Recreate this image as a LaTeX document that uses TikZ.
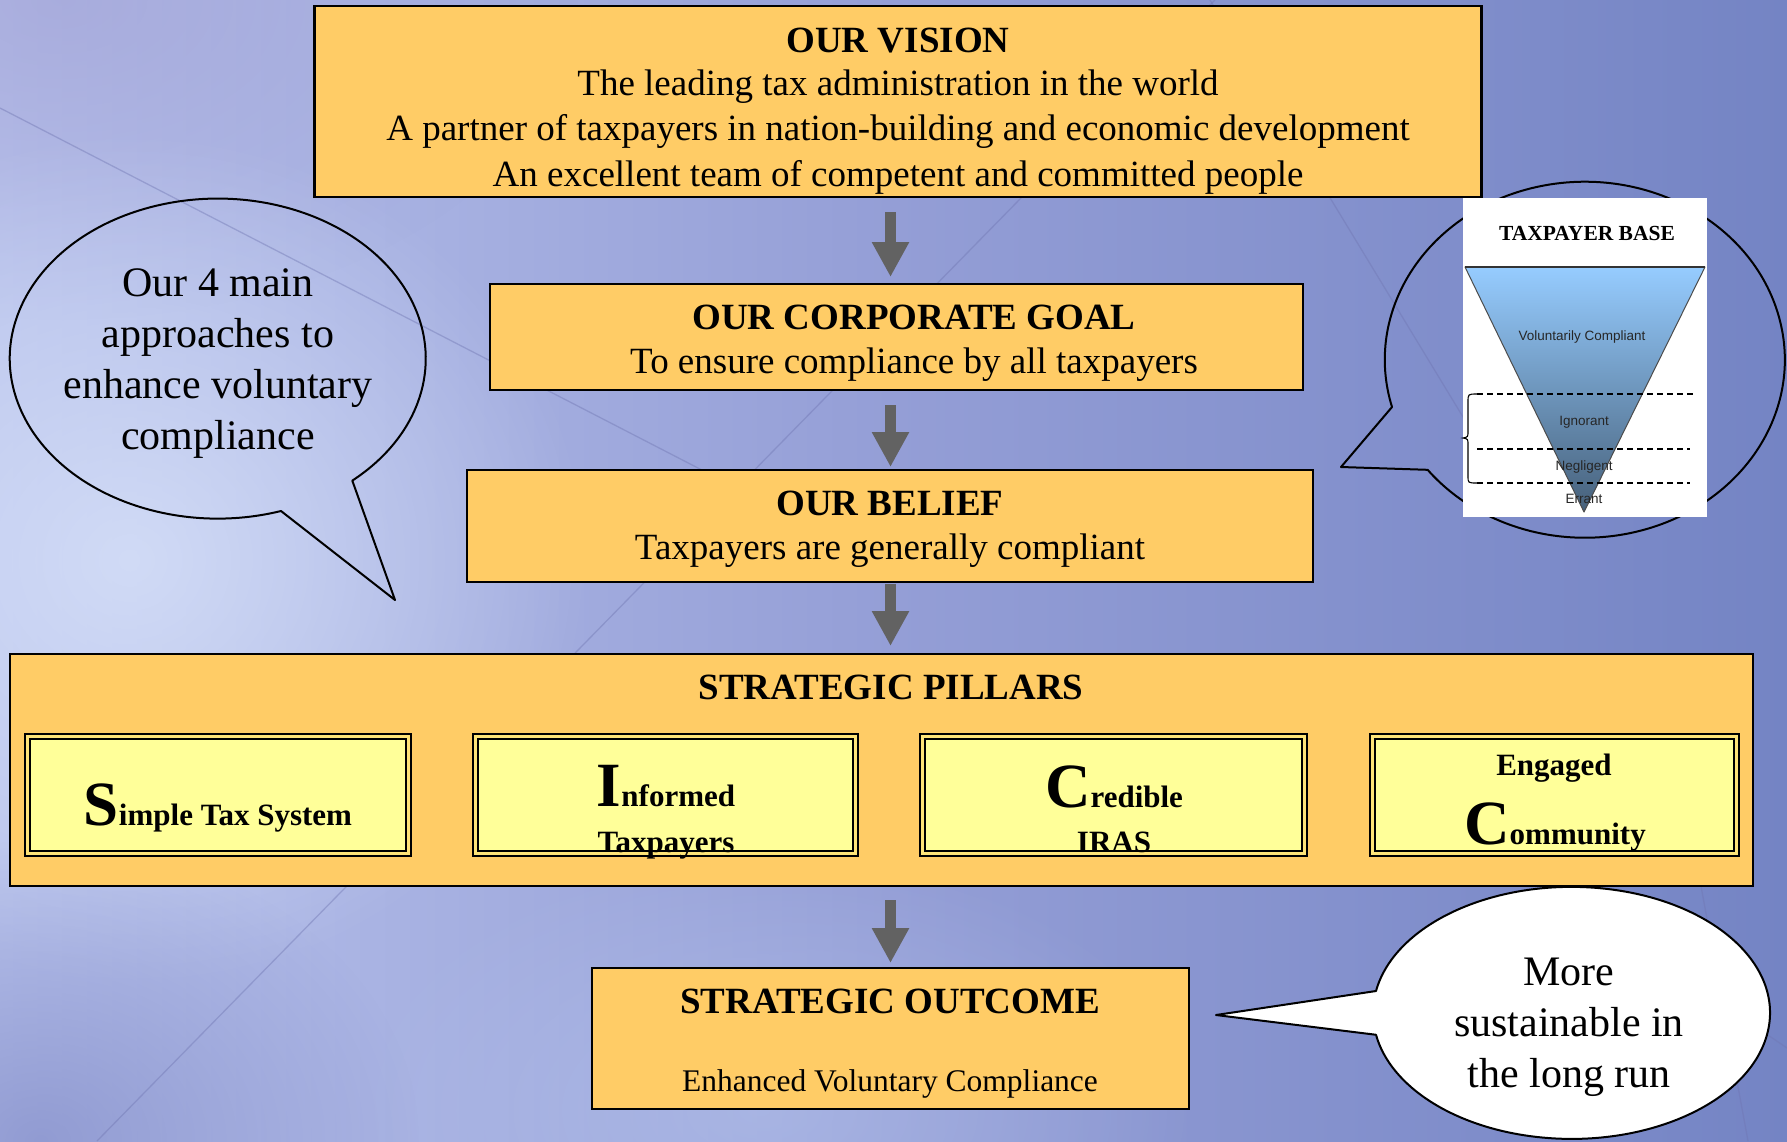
\documentclass[tikz,border=0pt]{standalone}
\usepackage{fontspec}
\setmainfont{Liberation Serif}
\newfontfamily\funnelfont{Liberation Sans}
\usetikzlibrary{calc,arrows.meta,fadings}

\definecolor{boxorange}{RGB}{255,204,102}
\definecolor{pillaryellow}{RGB}{255,255,153}
\definecolor{pillargap}{RGB}{255,228,120}
\definecolor{arrowgrey}{RGB}{98,98,98}
\definecolor{bgleft}{RGB}{184,194,236}
\definecolor{bgmid}{RGB}{148,158,214}
\definecolor{bgright}{RGB}{116,132,196}
\definecolor{bgglow}{RGB}{214,224,248}
\definecolor{bglavender}{RGB}{160,160,212}
\definecolor{bgdusk}{RGB}{136,146,204}
\definecolor{bgsoft}{RGB}{178,192,234}
\definecolor{streak}{RGB}{112,118,178}
\definecolor{funneltop}{RGB}{150,204,255}
\definecolor{funnelbottom}{RGB}{70,96,122}

\tikzfading[name=softglow, inner color=transparent!0, outer color=transparent!100]

% large bold initial followed by the rest of the word
\newcommand{\capinitial}[2]{{\fontsize{63}{63}\selectfont #1}{\fontsize{31}{36}\selectfont #2}}

\begin{document}
\begin{tikzpicture}[x=1pt, y=-1pt,
  panel/.style={draw=black, line width=2.4pt, fill=boxorange, inner sep=0pt, outer sep=0pt},
  pillarbox/.style={draw=black, line width=2.2pt, double=pillargap, double distance=2.4pt,
    fill=pillaryellow, inner sep=0pt, outer sep=0pt},
  bodytext/.style={anchor=base, inner sep=0pt, font=\fontsize{37}{44}\selectfont},
  titletext/.style={anchor=base, inner sep=0pt, font=\fontsize{37}{44}\selectfont\bfseries},
  outcometext/.style={anchor=base, inner sep=0pt, font=\fontsize{31.5}{38}\selectfont},
  pillartext/.style={anchor=base, inner sep=0pt, font=\bfseries\fontsize{31}{36}\selectfont},
  bubbletext/.style={anchor=base, inner sep=0pt, font=\fontsize{42}{51}\selectfont},
  bubbleline/.style={draw=black, line width=2pt, line join=round},
  flowarrow/.style={draw=arrowgrey, line width=11pt, -{Triangle[width=35pt, length=35pt]}},
  funnellabel/.style={inner sep=0pt, font=\funnelfont\fontsize{13.5}{16}\selectfont, text=black!85},
  streakline/.style={draw=streak, line width=1.3pt, opacity=0.42},
]

% ---------- background ----------
\path[use as bounding box] (0,0) rectangle (1787,1141);
\shade[left color=bgleft, right color=bgright, middle color=bgmid] (0,0) rectangle (1787,1141);
\fill[bglavender, path fading=softglow, fill opacity=0.6] (60,0) ellipse [x radius=520pt, y radius=320pt];
\fill[bgglow, path fading=softglow, fill opacity=0.85] (130,560) ellipse [x radius=460pt, y radius=430pt];
\fill[bgsoft, path fading=softglow, fill opacity=0.6] (760,1110) ellipse [x radius=440pt, y radius=260pt];
\fill[bgdusk, path fading=softglow, fill opacity=0.8] (40,1141) ellipse [x radius=380pt, y radius=300pt];

\draw[streakline] (1215,0) -- (97,1141);
\draw[streakline] (0,108) -- (760,500);
\draw[streakline] (1210,0) -- (1480,445);
\draw[streakline] (1698,870) -- (1748,1141);
\draw[streakline] (1728,1008) -- (1787,1048);

% ---------- speech bubbles (outlines) ----------
\draw[bubbleline] (281,511) arc[start angle=-72.3, end angle=-409.7, x radius=208pt, y radius=160pt]
  -- (395,600) -- cycle;
\draw[bubbleline] (1392,407) arc[start angle=-164.6, end angle=-501.8, x radius=200pt, y radius=178pt]
  -- (1341,467) -- cycle;

% ---------- taxpayer base funnel ----------
\node[fill=white, minimum width=244, minimum height=319, inner sep=0pt] (taxpanel) at (1585,357.5) {};
\node[anchor=base, inner sep=0pt, font=\bfseries\fontsize{21.5}{24}\selectfont] (taxtitle) at (1587,240) {TAXPAYER BASE};
\shadedraw[top color=funneltop, bottom color=funnelbottom, draw=black!70, line width=1pt, line join=round]
  (1465,267) -- (1705,267) -- (1584,512) -- cycle;
\draw[line width=1.8pt, black!80] (1465,267) -- (1705,267);
\draw[line width=1.2pt, dash pattern=on 6pt off 4pt] (1477,394) -- (1693,394);
\draw[line width=1.2pt, dash pattern=on 6pt off 4pt] (1477,449) -- (1690,449);
\draw[line width=1.2pt, dash pattern=on 6pt off 4pt] (1477,483) -- (1690,483);
\draw[line width=1.1pt] (1477,394) .. controls (1468,394) .. (1468,402) -- (1468,431)
  .. controls (1468,437) .. (1463,438) .. controls (1468,439) .. (1468,445) -- (1468,476)
  .. controls (1468,483) .. (1477,483);
\node[funnellabel] (lblcompliant) at (1582,337) {Voluntarily Compliant};
\node[funnellabel] (lblignorant) at (1584,422) {Ignorant};
\node[funnellabel] (lblnegligent) at (1584,467) {Negligent};
\node[funnellabel] (lblerrant) at (1584,499) {Errant};

% ---------- main boxes ----------
\node[panel, minimum width=1167, minimum height=191] (vision) at (898,101.5) {};
\node[panel, minimum width=813, minimum height=106] (goal) at (896.5,337) {};
\node[panel, minimum width=846, minimum height=112] (belief) at (890,526) {};
\node[panel, minimum width=1743, minimum height=232] (pillars) at (881.5,770) {};
\node[panel, minimum width=597, minimum height=141] (outcome) at (890.5,1038.5) {};

\node[titletext] (visiontitle) at (898,52) {OUR VISION};
\node[bodytext] (visionline1) at (898,95) {The leading tax administration in the world};
\node[bodytext] (visionline2) at (898,140.5) {A partner of taxpayers in nation-building and economic development};
\node[bodytext] (visionline3) at (898,186) {An excellent team of competent and committed people};

\node[titletext] (goaltitle) at (914,329) {OUR CORPORATE GOAL};
\node[bodytext] (goalline) at (914,373) {To ensure compliance by all taxpayers};

\node[titletext] (belieftitle) at (890,515) {OUR BELIEF};
\node[bodytext] (beliefline) at (890,559) {Taxpayers are generally compliant};

\node[titletext] (pillarstitle) at (891,699) {STRATEGIC PILLARS};

\node[titletext] (outcometitle) at (890,1013) {STRATEGIC OUTCOME};
\node[outcometext] (outcomeline) at (890,1091) {Enhanced Voluntary Compliance};

% ---------- the four pillars ----------
\node[pillarbox, minimum width=381, minimum height=117] (simplebox) at (218,795) {};
\node[pillarbox, minimum width=380, minimum height=117] (informedbox) at (665.5,795) {};
\node[pillarbox, minimum width=382, minimum height=117] (crediblebox) at (1113.5,795) {};
\node[pillarbox, minimum width=364, minimum height=117] (engagedbox) at (1554.5,795) {};

\node[pillartext] (simpletext) at (218,825) {\capinitial{S}{imple Tax System}};
\node[pillartext] (informedtext) at (666,806) {\capinitial{I}{nformed}};
\node[pillartext] (informedtext2) at (666,852) {Taxpayers};
\node[pillartext] (credibletext) at (1114,807) {\capinitial{C}{redible}};
\node[pillartext] (credibletext2) at (1114,852) {IRAS};
\node[pillartext] (engagedtext) at (1554,775) {Engaged};
\node[pillartext] (engagedtext2) at (1555,844) {\capinitial{C}{ommunity}};

% ---------- flow arrows ----------
\draw[flowarrow] ($(vision.south -| outcome.north)+(0,15)$) -- ($(goal.north -| outcome.north)+(0,-7)$);
\draw[flowarrow] ($(goal.south -| outcome.north)+(0,15)$) -- ($(belief.north -| outcome.north)+(0,-3)$);
\draw[flowarrow] ($(belief.south -| outcome.north)+(0,2)$) -- ($(pillars.north -| outcome.north)+(0,-8)$);
\draw[flowarrow] ($(pillars.south -| outcome.north)+(0,14)$) -- ($(outcome.north)+(0,-5)$);

% ---------- bubble texts ----------
\node[bubbletext] (approach1) at (218,296) {Our 4 main};
\node[bubbletext] (approach2) at (218,347) {approaches to};
\node[bubbletext] (approach3) at (218,398) {enhance voluntary};
\node[bubbletext] (approach4) at (218,449) {compliance};

\draw[bubbleline, fill=white] (1376,991) arc[start angle=-190, end angle=-530, x radius=198.5pt, y radius=126pt]
  -- (1216,1015) -- cycle;
\node[bubbletext] (sustain1) at (1569,985) {More};
\node[bubbletext] (sustain2) at (1569,1036) {sustainable in};
\node[bubbletext] (sustain3) at (1569,1087) {the long run};

\end{tikzpicture}
\end{document}
